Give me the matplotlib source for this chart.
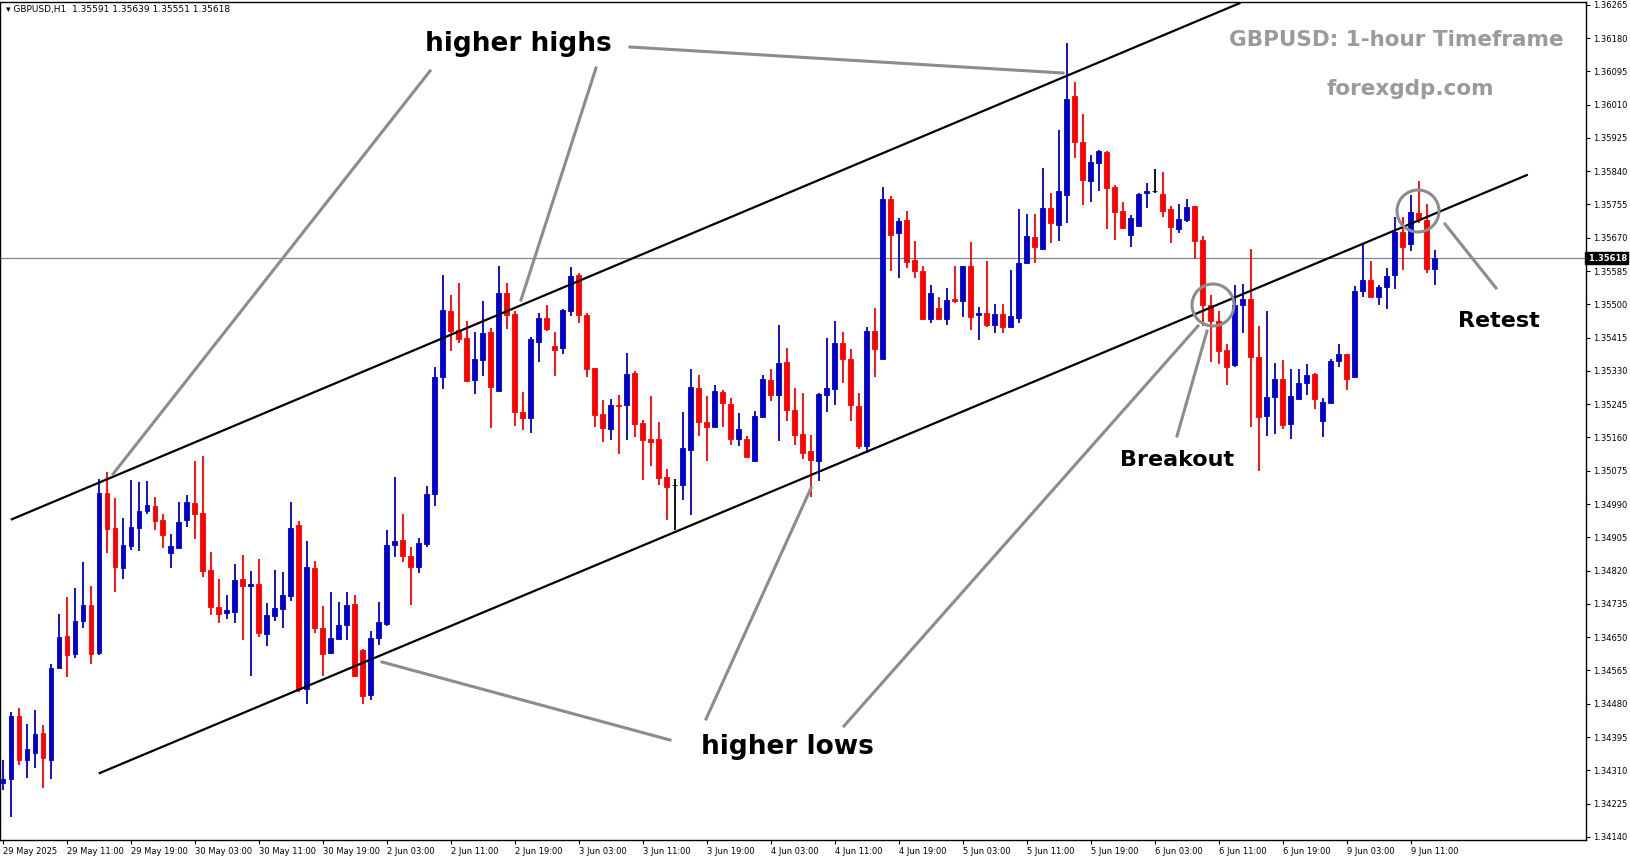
import numpy as np
import matplotlib
matplotlib.use("Agg")
import matplotlib.pyplot as plt
from matplotlib.patches import Circle
from matplotlib.lines import Line2D
import matplotlib.transforms as mtrans

# GBPUSD H1, bar 0 = 29 May 2025 03:00
opens = [
    1.34277, 1.34287, 1.34448, 1.34336, 1.34354, 1.34405, 1.34336, 1.34571, 1.34653, 1.34607,
    1.34691, 1.34732, 1.34609, 1.35018, 1.34928, 1.34826, 1.34882, 1.34928, 1.34972, 1.34985,
    1.34949, 1.34865, 1.34877, 1.34949, 1.34992, 1.34967, 1.34821, 1.34727, 1.34711, 1.34714,
    1.34798, 1.34780, 1.34785, 1.34658, 1.34704, 1.34722, 1.34755, 1.34936, 1.34517, 1.34826,
    1.34673, 1.34609, 1.34645, 1.34681, 1.34734, 1.34617, 1.34502, 1.34647, 1.34683, 1.34885,
    1.34898, 1.34857, 1.34829, 1.34888, 1.35015, 1.35314, 1.35483, 1.35434, 1.35414, 1.35306,
    1.35358, 1.35429, 1.35278, 1.35529, 1.35475, 1.35225, 1.35209, 1.35403, 1.35465, 1.35393,
    1.35388, 1.35483, 1.35575, 1.35472, 1.35337, 1.35220, 1.35181, 1.35243, 1.35243, 1.35324,
    1.35197, 1.35156, 1.35156, 1.35059, 1.35038, 1.35038, 1.35128, 1.35286, 1.35199, 1.35186,
    1.35276, 1.35245, 1.35156, 1.35156, 1.35100, 1.35212, 1.35306, 1.35268, 1.35352, 1.35230,
    1.35168, 1.35125, 1.35100, 1.35268, 1.35283, 1.35401, 1.35360, 1.35240, 1.35138, 1.35432,
    1.35360, 1.35769, 1.35682, 1.35715, 1.35613, 1.35585, 1.35462, 1.35490, 1.35462, 1.35513,
    1.35508, 1.35598, 1.35472, 1.35478, 1.35447, 1.35475, 1.35442, 1.35465, 1.35605, 1.35672,
    1.35641, 1.35746, 1.35702, 1.35779, 1.36032, 1.35914, 1.35815, 1.35861, 1.35889, 1.35799,
    1.35738, 1.35677, 1.35700, 1.35784, 1.35789, 1.35781, 1.35743, 1.35692, 1.35715, 1.35751,
    1.35664, 1.35498, 1.35457, 1.35383, 1.35345, 1.35498, 1.35513, 1.35365, 1.35215, 1.35263,
    1.35309, 1.35194, 1.35258, 1.35299, 1.35322, 1.35202, 1.35248, 1.35355, 1.35373, 1.35314,
    1.35534, 1.35562, 1.35518, 1.35544, 1.35575, 1.35684, 1.35654, 1.35733, 1.35715, 1.35590,
]
highs = [
    1.34336, 1.34459, 1.34469, 1.34428, 1.34464, 1.34425, 1.34581, 1.34709, 1.34752, 1.34775,
    1.34842, 1.34780, 1.35054, 1.35071, 1.35005, 1.34954, 1.35051, 1.35046, 1.35048, 1.35008,
    1.34964, 1.34913, 1.34995, 1.35013, 1.35100, 1.35112, 1.34867, 1.34798, 1.34757, 1.34837,
    1.34860, 1.34819, 1.34849, 1.34737, 1.34821, 1.34816, 1.34995, 1.34946, 1.34895, 1.34844,
    1.34729, 1.34765, 1.34739, 1.34765, 1.34757, 1.34619, 1.34665, 1.34739, 1.34923, 1.35059,
    1.34964, 1.34880, 1.34903, 1.35036, 1.35340, 1.35575, 1.35524, 1.35554, 1.35457, 1.35429,
    1.35508, 1.35439, 1.35598, 1.35554, 1.35483, 1.35276, 1.35416, 1.35478, 1.35498, 1.35429,
    1.35488, 1.35595, 1.35580, 1.35478, 1.35337, 1.35255, 1.35258, 1.35268, 1.35375, 1.35329,
    1.35204, 1.35265, 1.35199, 1.35079, 1.35054, 1.35225, 1.35335, 1.35319, 1.35265, 1.35294,
    1.35281, 1.35260, 1.35222, 1.35163, 1.35227, 1.35319, 1.35335, 1.35447, 1.35388, 1.35286,
    1.35273, 1.35166, 1.35273, 1.35414, 1.35457, 1.35429, 1.35386, 1.35273, 1.35442, 1.35490,
    1.35799, 1.35776, 1.35720, 1.35738, 1.35661, 1.35598, 1.35549, 1.35518, 1.35541, 1.35598,
    1.35598, 1.35659, 1.35493, 1.35610, 1.35500, 1.35500, 1.35587, 1.35743, 1.35730, 1.35730,
    1.35848, 1.35784, 1.35945, 1.36167, 1.36068, 1.35986, 1.35881, 1.35894, 1.35891, 1.35804,
    1.35761, 1.35728, 1.35784, 1.35810, 1.35845, 1.35838, 1.35751, 1.35756, 1.35769, 1.35751,
    1.35674, 1.35524, 1.35483, 1.35398, 1.35549, 1.35552, 1.35641, 1.35444, 1.35483, 1.35350,
    1.35358, 1.35335, 1.35335, 1.35347, 1.35324, 1.35260, 1.35360, 1.35398, 1.35373, 1.35547,
    1.35654, 1.35610, 1.35549, 1.35592, 1.35723, 1.35723, 1.35779, 1.35815, 1.35756, 1.35638,
]
lows = [
    1.34259, 1.34190, 1.34323, 1.34290, 1.34315, 1.34264, 1.34287, 1.34571, 1.34548, 1.34596,
    1.34673, 1.34581, 1.34604, 1.34865, 1.34765, 1.34798, 1.34872, 1.34870, 1.34964, 1.34923,
    1.34877, 1.34826, 1.34877, 1.34931, 1.34900, 1.34803, 1.34706, 1.34686, 1.34696, 1.34686,
    1.34642, 1.34550, 1.34650, 1.34627, 1.34691, 1.34673, 1.34742, 1.34510, 1.34479, 1.34660,
    1.34550, 1.34609, 1.34645, 1.34642, 1.34548, 1.34479, 1.34489, 1.34630, 1.34678, 1.34854,
    1.34842, 1.34732, 1.34814, 1.34880, 1.34985, 1.35283, 1.35380, 1.35401, 1.35301, 1.35271,
    1.35317, 1.35184, 1.35278, 1.35437, 1.35189, 1.35179, 1.35171, 1.35352, 1.35432, 1.35317,
    1.35373, 1.35470, 1.35452, 1.35314, 1.35186, 1.35148, 1.35153, 1.35117, 1.35153, 1.35161,
    1.35051, 1.35087, 1.35038, 1.34949, 1.34923, 1.35000, 1.34962, 1.35163, 1.35100, 1.35186,
    1.35186, 1.35140, 1.35138, 1.35110, 1.35100, 1.35212, 1.35253, 1.35151, 1.35202, 1.35140,
    1.35105, 1.35008, 1.35048, 1.35225, 1.35243, 1.35299, 1.35202, 1.35130, 1.35120, 1.35314,
    1.35360, 1.35585, 1.35567, 1.35592, 1.35567, 1.35462, 1.35452, 1.35462, 1.35447, 1.35503,
    1.35467, 1.35434, 1.35409, 1.35442, 1.35426, 1.35426, 1.35442, 1.35452, 1.35605, 1.35605,
    1.35641, 1.35656, 1.35661, 1.35707, 1.35873, 1.35753, 1.35761, 1.35789, 1.35692, 1.35664,
    1.35692, 1.35646, 1.35700, 1.35746, 1.35784, 1.35723, 1.35656, 1.35682, 1.35710, 1.35615,
    1.35444, 1.35352, 1.35347, 1.35294, 1.35340, 1.35426, 1.35186, 1.35074, 1.35163, 1.35168,
    1.35181, 1.35156, 1.35258, 1.35268, 1.35232, 1.35161, 1.35248, 1.35340, 1.35281, 1.35314,
    1.35518, 1.35518, 1.35498, 1.35488, 1.35539, 1.35587, 1.35636, 1.35707, 1.35580, 1.35549,
]
closes = [
    1.34287, 1.34448, 1.34336, 1.34364, 1.34402, 1.34341, 1.34571, 1.34650, 1.34604, 1.34691,
    1.34732, 1.34607, 1.35018, 1.34926, 1.34829, 1.34885, 1.34931, 1.34972, 1.34987, 1.34946,
    1.34911, 1.34882, 1.34944, 1.34995, 1.34964, 1.34819, 1.34727, 1.34709, 1.34719, 1.34796,
    1.34780, 1.34785, 1.34660, 1.34706, 1.34724, 1.34757, 1.34928, 1.34517, 1.34829, 1.34673,
    1.34607, 1.34647, 1.34681, 1.34732, 1.34550, 1.34499, 1.34647, 1.34688, 1.34885, 1.34895,
    1.34857, 1.34829, 1.34890, 1.35015, 1.35314, 1.35485, 1.35432, 1.35411, 1.35304, 1.35360,
    1.35426, 1.35289, 1.35529, 1.35472, 1.35225, 1.35209, 1.35411, 1.35465, 1.35437, 1.35383,
    1.35485, 1.35572, 1.35472, 1.35335, 1.35217, 1.35184, 1.35243, 1.35240, 1.35322, 1.35194,
    1.35153, 1.35148, 1.35056, 1.35033, 1.35038, 1.35133, 1.35289, 1.35199, 1.35186, 1.35278,
    1.35248, 1.35156, 1.35181, 1.35110, 1.35215, 1.35309, 1.35268, 1.35350, 1.35230, 1.35166,
    1.35120, 1.35102, 1.35271, 1.35286, 1.35401, 1.35360, 1.35243, 1.35138, 1.35432, 1.35386,
    1.35769, 1.35677, 1.35712, 1.35608, 1.35585, 1.35462, 1.35529, 1.35462, 1.35511, 1.35508,
    1.35598, 1.35467, 1.35478, 1.35447, 1.35475, 1.35442, 1.35470, 1.35605, 1.35674, 1.35646,
    1.35746, 1.35707, 1.35789, 1.36024, 1.35914, 1.35817, 1.35863, 1.35891, 1.35797, 1.35736,
    1.35695, 1.35720, 1.35781, 1.35789, 1.35789, 1.35738, 1.35697, 1.35718, 1.35748, 1.35661,
    1.35498, 1.35457, 1.35380, 1.35340, 1.35498, 1.35513, 1.35365, 1.35212, 1.35263, 1.35309,
    1.35191, 1.35266, 1.35299, 1.35319, 1.35258, 1.35250, 1.35355, 1.35373, 1.35309, 1.35534,
    1.35562, 1.35518, 1.35544, 1.35572, 1.35684, 1.35646, 1.35736, 1.35718, 1.35590, 1.35618,
]

date_labels = ["29 May 2025", "29 May 11:00", "29 May 19:00", "30 May 03:00", "30 May 11:00",
               "30 May 19:00", "2 Jun 03:00", "2 Jun 11:00", "2 Jun 19:00", "3 Jun 03:00",
               "3 Jun 11:00", "3 Jun 19:00", "4 Jun 03:00", "4 Jun 11:00", "4 Jun 19:00",
               "5 Jun 03:00", "5 Jun 11:00", "5 Jun 19:00", "6 Jun 03:00", "6 Jun 11:00",
               "6 Jun 19:00", "9 Jun 03:00", "9 Jun 11:00"]
price_ticks = [1.36265 - 0.00085 * k for k in range(26)]
last_price = 1.35618

# channel lines: (bar, price) end points
upper_line = [(1.1, 1.34951), (154.6, 1.36269)]
lower_line = [(12.1, 1.34303), (190.5, 1.35830)]

W, H = 1631, 861
BLUE, RED = "#0000CD", "#FF0000"

fig = plt.figure(figsize=(W / 100, H / 100), dpi=100)
ax = fig.add_axes([0.0, 21 / H, 1586 / W, 838 / H])
ax.set_xlim(-0.375, 197.9)
ax.set_ylim(1.34132, 1.36272)

o, h, l, c = map(np.array, (opens, highs, lows, closes))
x = np.arange(len(o))
col = np.where(c > o, BLUE, np.where(c < o, RED, "black"))
ax.vlines(x, l, h, colors=col, linewidth=1.3, zorder=2)
ax.bar(x, np.abs(c - o), bottom=np.minimum(o, c), width=0.62, color=col,
       edgecolor=col, linewidth=0.6, zorder=3)

for (x0, y0), (x1, y1) in (upper_line, lower_line):
    ax.plot([x0, x1], [y0, y1], color="black", lw=1.6, zorder=4)

ax.axhline(last_price, color="#7a8a99", lw=0.9, zorder=1)

# axes
ax.yaxis.tick_right()
ax.set_yticks(price_ticks)
ax.set_yticklabels([f"{p:.5f}" for p in price_ticks], fontsize=6)
ax.set_xticks(np.arange(len(date_labels)) * 8)
ax.set_xticklabels(date_labels, fontsize=6, ha="left")
ax.tick_params(axis="both", length=3, width=0.8, pad=2)
for s in ax.spines.values():
    s.set_linewidth(1)
ax.text(1.0, last_price, " 1.35618", transform=mtrans.blended_transform_factory(ax.transAxes, ax.transData),
        fontsize=6, color="white", fontweight="bold", va="center", ha="left",
        bbox=dict(boxstyle="square,pad=0.15", fc="black", ec="black"), zorder=10, clip_on=False)
ax.text(0.004, 0.996, "\u25BE GBPUSD,H1  1.35591 1.35639 1.35551 1.35618", transform=ax.transAxes,
        fontsize=6.5, va="top", ha="left")


def px(xp, yp):
    return xp / W, 1 - yp / H


def gline(p0, p1):
    fig.add_artist(Line2D(*zip(px(*p0), px(*p1)), color="#8c8c8c", lw=2.2, zorder=6))


for a, b in [((430, 71), (113, 474)), ((596, 68), (521, 300)), ((630, 47), (1063, 73)),
             ((670, 740), (382, 662)), ((706, 719), (811, 488)), ((844, 726), (1198, 326)),
             ((1177, 436), (1207, 331)), ((1445, 224), (1496, 288))]:
    gline(a, b)

for cx, cy in [(1213, 305), (1418, 211)]:
    fig.add_artist(Circle((cx, H - cy), 21, transform=None, fill=False,
                          ec="#8c8c8c", lw=2.2, zorder=6))

fig.text(*px(518, 44), "higher highs", fontsize=19, fontweight="bold", ha="center", va="center")
fig.text(*px(787, 747), "higher lows", fontsize=19, fontweight="bold", ha="center", va="center")
fig.text(*px(1177, 460), "Breakout", fontsize=16, fontweight="bold", ha="center", va="center")
fig.text(*px(1499, 321), "Retest", fontsize=16, fontweight="bold", ha="center", va="center")
fig.text(*px(1396, 40), "GBPUSD: 1-hour Timeframe", fontsize=15.5, fontweight="bold",
         color="#9a9a9a", ha="center", va="center")
fig.text(*px(1410, 89), "forexgdp.com", fontsize=15.5, fontweight="bold",
         color="#9a9a9a", ha="center", va="center")

fig.savefig("out.png", dpi=100)
